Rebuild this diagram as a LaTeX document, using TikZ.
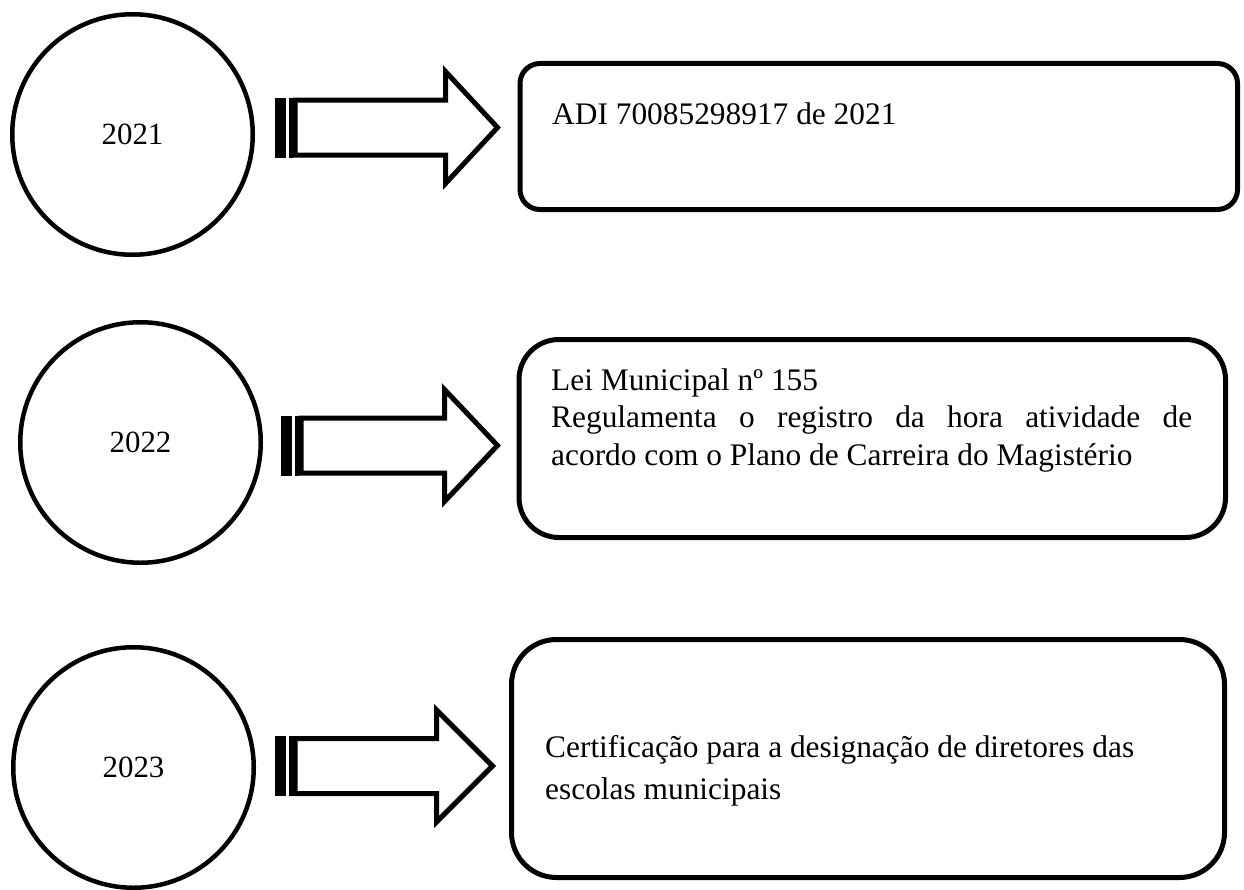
\documentclass[tikz,border=0pt]{standalone}
\usepackage{fontspec}
\setmainfont{Liberation Serif}
\begin{document}
\begin{tikzpicture}[x=1bp,y=-1bp,
    year/.style={circle,draw,line width=4.5bp,minimum size=240.5bp,inner sep=0pt,
      font=\fontsize{31}{37}\selectfont},
    event/.style={draw,line width=5bp,inner sep=0pt},
    txt/.style={anchor=base west,inner sep=0pt,font=\fontsize{31.5}{38}\selectfont}]
  \useasboundingbox (0,0) rectangle (1244,890);
  % years
  \node[year] (y21) at (132.5,134.5) {2021};
  \node[year] (y22) at (140.5,442.5) {2022};
  \node[year] (y23) at (133.5,767.5) {2023};
  % boxes
  \node[event,rounded corners=20bp,minimum width=717.5bp,minimum height=146bp] (b21) at (878.75,136.5) {};
  \node[event,rounded corners=40bp,minimum width=706.5bp,minimum height=198bp] (b22) at (872.25,438.5) {};
  \node[event,rounded corners=45bp,minimum width=713bp,minimum height=238bp] (b23) at (868,758.5) {};
  % texts
  \node[txt] (t21) at (552,124) {ADI 70085298917 de 2021};
  \node[txt,text width=641bp,align=justify] (t22) at (551,390)
    {\spaceskip=.25em plus .6em\relax\tolerance=9999\relax
     Lei Municipal nº 155\par Regulamenta o registro da hora atividade de acordo com o Plano de Carreira do Magistério};
  \node[txt,align=left,font=\fontsize{31.5}{42}\selectfont] (t23) at (545,799)
    {Certificação para a designação de diretores das\\escolas municipais};
  % striped arrows
  \foreach \t/\h/\p/\y in {275/445.5/497.5/127.5, 281/444.5/497.5/445.5, 275/436.5/492.5/766}{
    \fill (\t,\y-30) rectangle (\t+11,\y+30);
    \fill (\t+13.5,\y-30) rectangle (\t+17.5,\y+30);
    \draw[line width=5bp] (\t+20,\y-27.5) -- (\h,\y-27.5) -- (\h,\y-56) -- (\p,\y)
      -- (\h,\y+56) -- (\h,\y+27.5) -- (\t+20,\y+27.5) -- cycle;
  }
\end{tikzpicture}
\end{document}
